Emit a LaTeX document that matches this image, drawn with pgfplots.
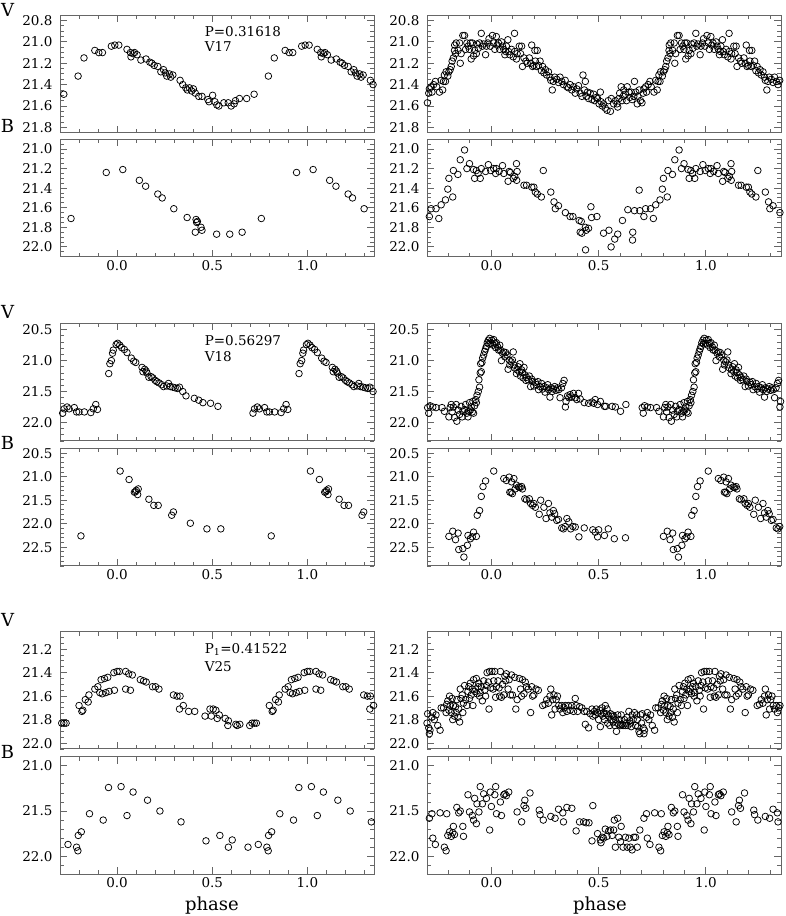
\documentclass[border=0pt]{standalone}
\usepackage{fontspec}
\setmainfont{DejaVu Serif}
\usepackage{pgfplots}
\pgfplotsset{compat=1.18}
\usepackage{pgfplotstable}

% ---------------- V17 ----------------
\pgfplotstableread{
p m
0.009 21.03
0.052 21.07
0.070 21.10
0.073 21.14
0.084 21.11
0.092 21.10
0.105 21.12
0.125 21.17
0.152 21.16
0.172 21.19
0.183 21.20
0.195 21.22
0.214 21.23
0.230 21.28
0.244 21.26
0.253 21.29
0.261 21.32
0.275 21.30
0.282 21.33
0.293 21.31
0.331 21.36
0.345 21.40
0.361 21.43
0.369 21.45
0.380 21.43
0.392 21.46
0.401 21.44
0.411 21.48
0.429 21.51
0.446 21.51
0.477 21.54
0.483 21.56
0.502 21.50
0.514 21.56
0.524 21.59
0.535 21.60
0.561 21.57
0.584 21.57
0.599 21.60
0.615 21.58
0.622 21.55
0.643 21.53
0.681 21.53
0.720 21.49
0.795 21.32
0.826 21.15
0.883 21.08
0.904 21.10
0.923 21.10
0.970 21.04
0.988 21.03
}\vSevL

\pgfplotstableread{
p m
0.030 21.21
0.117 21.32
0.150 21.38
0.214 21.46
0.237 21.50
0.298 21.61
0.368 21.70
0.411 21.85
0.415 21.72
0.418 21.75
0.422 21.74
0.441 21.80
0.446 21.83
0.523 21.87
0.592 21.87
0.657 21.85
0.758 21.71
0.943 21.24
}\bSevL

\pgfplotstableread{
p m
0.005 20.94
0.011 21.01
0.016 21.07
0.023 20.95
0.027 21.03
0.033 21.01
0.039 21.07
0.047 21.00
0.052 21.04
0.058 21.07
0.063 21.12
0.067 21.09
0.070 21.04
0.077 20.98
0.080 21.09
0.086 21.12
0.094 21.07
0.102 21.14
0.108 20.92
0.109 21.09
0.117 21.16
0.120 21.11
0.130 21.04
0.136 21.11
0.141 21.04
0.145 21.23
0.152 21.15
0.161 21.18
0.167 21.20
0.177 21.15
0.183 21.20
0.188 21.03
0.192 21.23
0.198 21.22
0.203 21.08
0.205 21.18
0.211 21.23
0.214 21.08
0.220 21.22
0.227 21.18
0.233 21.27
0.239 21.23
0.245 21.29
0.252 21.26
0.258 21.31
0.266 21.28
0.273 21.33
0.277 21.36
0.284 21.45
0.289 21.37
0.295 21.33
0.305 21.35
0.313 21.38
0.320 21.33
0.328 21.37
0.336 21.40
0.344 21.36
0.352 21.42
0.359 21.43
0.367 21.40
0.375 21.45
0.383 21.42
0.391 21.48
0.398 21.44
0.406 21.41
0.414 21.48
0.422 21.51
0.427 21.31
0.433 21.45
0.438 21.37
0.442 21.51
0.448 21.47
0.453 21.53
0.461 21.48
0.469 21.54
0.477 21.49
0.481 21.55
0.489 21.52
0.495 21.53
0.502 21.58
0.508 21.47
0.511 21.56
0.517 21.60
0.523 21.58
0.531 21.62
0.539 21.64
0.545 21.55
0.555 21.65
0.559 21.53
0.570 21.58
0.578 21.55
0.586 21.58
0.589 21.61
0.595 21.53
0.598 21.48
0.605 21.42
0.609 21.55
0.614 21.51
0.617 21.45
0.625 21.49
0.630 21.55
0.633 21.42
0.641 21.47
0.645 21.52
0.652 21.47
0.656 21.54
0.664 21.51
0.667 21.37
0.673 21.47
0.680 21.58
0.683 21.51
0.689 21.45
0.695 21.55
0.702 21.57
0.708 21.48
0.711 21.44
0.719 21.42
0.723 21.47
0.731 21.40
0.739 21.37
0.745 21.42
0.758 21.47
0.766 21.36
0.773 21.45
0.777 21.37
0.781 21.31
0.786 21.37
0.789 21.28
0.797 21.32
0.802 21.28
0.808 21.26
0.813 21.23
0.817 21.18
0.823 21.15
0.828 21.08
0.833 21.11
0.829 21.03
0.836 21.01
0.845 21.08
0.852 21.01
0.855 21.20
0.859 21.11
0.867 20.94
0.875 20.94
0.880 21.07
0.886 21.01
0.892 21.04
0.898 21.07
0.902 21.01
0.906 21.16
0.911 21.01
0.917 21.13
0.922 21.08
0.930 21.11
0.933 21.02
0.939 21.06
0.945 21.01
0.953 20.92
0.958 21.04
0.964 21.02
0.973 21.12
0.977 21.04
0.984 21.01
0.989 20.97
0.995 21.04
}\vSevR

\pgfplotstableread{
p m
0.011 21.20
0.020 21.25
0.023 21.20
0.036 21.23
0.052 21.17
0.058 21.25
0.078 21.33
0.083 21.23
0.089 21.24
0.102 21.30
0.109 21.28
0.117 21.15
0.120 21.23
0.118 21.32
0.152 21.37
0.164 21.37
0.188 21.39
0.198 21.39
0.205 21.44
0.214 21.46
0.233 21.49
0.242 21.22
0.277 21.44
0.292 21.54
0.298 21.61
0.313 21.58
0.345 21.65
0.367 21.69
0.380 21.69
0.409 21.73
0.414 21.85
0.419 21.74
0.422 21.86
0.438 21.80
0.439 22.03
0.442 21.83
0.453 21.81
0.464 21.59
0.467 21.70
0.492 21.69
0.523 21.86
0.548 21.83
0.558 22.00
0.575 21.92
0.589 21.87
0.611 21.73
0.636 21.62
0.658 21.93
0.659 21.85
0.667 21.63
0.689 21.42
0.692 21.63
0.711 21.69
0.719 21.61
0.742 21.61
0.755 21.71
0.766 21.57
0.786 21.52
0.797 21.41
0.802 21.30
0.820 21.49
0.823 21.22
0.844 21.26
0.855 21.11
0.875 21.01
0.886 21.20
0.898 21.15
0.917 21.21
0.922 21.30
0.930 21.22
0.938 21.25
0.948 21.30
0.953 21.20
0.973 21.23
0.986 21.16
0.997 21.22
}\bSevR

% ---------------- V18 ----------------
\pgfplotstableread{
p m
0.003 20.72
0.014 20.75
0.024 20.79
0.038 20.82
0.052 20.87
0.075 20.96
0.087 21.01
0.098 21.03
0.131 21.11
0.136 21.18
0.145 21.14
0.153 21.17
0.157 21.20
0.167 21.27
0.179 21.26
0.188 21.28
0.200 21.32
0.209 21.34
0.220 21.36
0.235 21.39
0.244 21.42
0.261 21.41
0.270 21.37
0.279 21.42
0.293 21.43
0.305 21.44
0.317 21.45
0.328 21.43
0.345 21.50
0.362 21.57
0.406 21.61
0.429 21.64
0.451 21.68
0.491 21.69
0.530 21.74
0.714 21.85
0.722 21.78
0.737 21.75
0.748 21.78
0.775 21.76
0.787 21.83
0.800 21.83
0.828 21.83
0.862 21.84
0.875 21.78
0.888 21.71
0.897 21.79
0.956 21.21
0.962 21.05
0.970 21.00
0.976 20.88
0.980 20.83
0.995 20.74
}\vEigL

\pgfplotstableread{
p m
0.016 20.88
0.063 21.06
0.091 21.33
0.097 21.32
0.101 21.29
0.108 21.38
0.111 21.26
0.167 21.48
0.193 21.61
0.216 21.61
0.287 21.82
0.296 21.75
0.385 21.99
0.472 22.11
0.545 22.11
0.810 22.26
}\bEigL

\pgfplotstableread{
p m
0.002 20.67
0.008 20.75
0.011 20.66
0.016 20.72
0.020 20.79
0.023 20.71
0.030 20.78
0.034 20.83
0.039 20.75
0.042 20.83
0.047 21.00
0.052 20.88
0.058 20.86
0.063 20.94
0.067 20.87
0.073 20.91
0.078 21.14
0.083 20.99
0.086 21.07
0.092 21.02
0.098 20.99
0.102 20.86
0.105 21.07
0.109 21.12
0.117 21.21
0.120 21.15
0.125 21.10
0.130 21.18
0.133 21.05
0.136 21.25
0.141 21.15
0.145 21.19
0.148 21.28
0.152 21.11
0.156 21.23
0.161 21.32
0.164 21.27
0.172 21.31
0.177 21.25
0.183 21.42
0.188 21.30
0.192 21.34
0.198 21.41
0.205 21.35
0.211 21.39
0.217 21.34
0.220 21.47
0.227 21.42
0.234 21.37
0.239 21.46
0.245 21.42
0.250 21.51
0.258 21.44
0.263 21.39
0.267 21.47
0.273 21.59
0.277 21.44
0.283 21.50
0.289 21.46
0.295 21.42
0.302 21.48
0.308 21.44
0.314 21.47
0.320 21.60
0.327 21.44
0.333 21.37
0.339 21.32
0.345 21.75
0.348 21.66
0.355 21.57
0.361 21.60
0.367 21.55
0.375 21.59
0.383 21.53
0.391 21.60
0.398 21.63
0.406 21.53
0.414 21.62
0.433 21.68
0.453 21.69
0.469 21.67
0.477 21.69
0.484 21.63
0.495 21.71
0.508 21.66
0.527 21.74
0.533 21.74
0.563 21.74
0.578 21.75
0.602 21.82
0.627 21.71
0.703 21.76
0.708 21.85
0.714 21.73
0.727 21.75
0.742 21.76
0.770 21.76
0.781 21.82
0.802 21.91
0.808 21.76
0.813 21.71
0.817 21.83
0.823 21.75
0.828 21.92
0.836 21.71
0.839 21.98
0.845 21.80
0.852 21.87
0.859 21.74
0.864 21.91
0.867 21.82
0.875 21.79
0.880 21.71
0.886 21.85
0.891 21.91
0.895 21.82
0.898 21.68
0.902 21.80
0.906 21.75
0.911 21.83
0.914 21.66
0.917 21.85
0.922 21.73
0.927 21.63
0.930 21.68
0.933 21.56
0.939 21.50
0.945 21.43
0.942 21.31
0.948 21.20
0.953 21.18
0.950 21.05
0.956 21.03
0.959 20.96
0.964 20.91
0.969 20.85
0.973 20.81
0.977 20.77
0.981 20.71
0.986 20.67
0.989 20.73
0.992 20.64
0.997 20.72
}\vEigR

\pgfplotstableread{
p m
0.011 20.88
0.058 21.04
0.070 21.08
0.083 21.01
0.086 21.33
0.094 21.11
0.092 21.33
0.098 21.36
0.105 21.04
0.111 21.26
0.117 21.18
0.127 21.22
0.133 21.23
0.141 21.21
0.145 21.26
0.156 21.47
0.164 21.49
0.177 21.47
0.183 21.57
0.192 21.61
0.198 21.57
0.205 21.65
0.223 21.80
0.230 21.50
0.245 21.65
0.255 21.89
0.266 21.57
0.273 21.77
0.281 21.86
0.289 21.72
0.295 21.79
0.305 21.93
0.313 21.91
0.328 22.09
0.336 22.11
0.344 22.06
0.352 21.89
0.361 21.96
0.370 22.11
0.380 22.06
0.391 22.07
0.408 22.28
0.433 22.09
0.473 22.13
0.484 22.18
0.495 22.28
0.500 22.13
0.527 22.25
0.545 22.11
0.573 22.32
0.625 22.30
0.802 22.27
0.820 22.16
0.833 22.34
0.845 22.20
0.848 22.55
0.867 22.53
0.872 22.71
0.888 22.46
0.891 22.25
0.902 22.32
0.911 22.28
0.917 22.18
0.930 22.27
0.934 21.82
0.945 21.72
0.953 21.42
0.961 21.21
0.973 21.09
}\bEigR

% ---------------- V25 ----------------
\pgfplotstableread{
p m
0.000 21.39
0.012 21.39
0.045 21.39
0.045 21.54
0.061 21.41
0.070 21.55
0.080 21.42
0.122 21.46
0.139 21.47
0.153 21.48
0.186 21.52
0.202 21.52
0.220 21.54
0.296 21.59
0.315 21.60
0.331 21.60
0.328 21.71
0.348 21.68
0.376 21.73
0.408 21.73
0.462 21.77
0.488 21.71
0.495 21.77
0.505 21.71
0.519 21.72
0.526 21.79
0.537 21.76
0.568 21.79
0.582 21.85
0.585 21.81
0.624 21.84
0.631 21.85
0.645 21.84
0.697 21.85
0.709 21.83
0.721 21.83
0.732 21.83
0.800 21.68
0.815 21.73
0.820 21.72
0.833 21.63
0.848 21.65
0.852 21.59
0.883 21.54
0.899 21.52
0.909 21.57
0.916 21.46
0.922 21.58
0.934 21.45
0.941 21.57
0.951 21.44
0.958 21.56
0.983 21.40
0.986 21.55
}\vTwfL

\pgfplotstableread{
p m
0.021 21.23
0.052 21.55
0.084 21.29
0.160 21.38
0.225 21.50
0.336 21.62
0.467 21.83
0.540 21.77
0.585 21.90
0.605 21.82
0.688 21.90
0.742 21.87
0.787 21.90
0.794 21.94
0.796 21.77
0.812 21.73
0.855 21.53
0.927 21.60
0.955 21.24
}\bTwfL

\pgfplotstableread{
p m
0.003 21.39
0.008 21.54
0.011 21.47
0.016 21.39
0.020 21.61
0.023 21.52
0.031 21.47
0.036 21.53
0.039 21.60
0.042 21.39
0.047 21.61
0.052 21.50
0.058 21.59
0.063 21.43
0.067 21.47
0.070 21.41
0.078 21.54
0.083 21.46
0.089 21.59
0.094 21.42
0.098 21.59
0.109 21.44
0.114 21.71
0.120 21.63
0.130 21.45
0.136 21.54
0.141 21.60
0.145 21.46
0.152 21.58
0.158 21.48
0.164 21.52
0.172 21.54
0.183 21.74
0.188 21.52
0.192 21.60
0.198 21.59
0.208 21.54
0.219 21.55
0.239 21.68
0.250 21.67
0.258 21.63
0.266 21.66
0.273 21.60
0.277 21.54
0.281 21.76
0.286 21.63
0.292 21.59
0.297 21.71
0.302 21.63
0.308 21.60
0.314 21.68
0.320 21.71
0.328 21.68
0.333 21.74
0.339 21.70
0.345 21.68
0.352 21.73
0.359 21.68
0.367 21.72
0.375 21.68
0.383 21.73
0.391 21.62
0.395 21.68
0.402 21.73
0.411 21.69
0.422 21.70
0.433 21.73
0.438 21.84
0.445 21.73
0.453 21.87
0.461 21.75
0.469 21.71
0.473 21.77
0.480 21.73
0.484 21.76
0.489 21.71
0.495 21.74
0.500 21.80
0.505 21.72
0.508 21.86
0.511 21.75
0.516 21.70
0.520 21.77
0.523 21.74
0.527 21.80
0.531 21.68
0.536 21.75
0.539 21.71
0.542 21.83
0.547 21.77
0.552 21.85
0.555 21.75
0.558 21.80
0.563 21.76
0.567 21.82
0.570 21.77
0.575 21.85
0.578 21.80
0.583 21.90
0.586 21.83
0.589 21.76
0.594 21.84
0.598 21.80
0.602 21.85
0.605 21.76
0.609 21.84
0.614 21.85
0.620 21.80
0.625 21.85
0.630 21.83
0.633 21.78
0.636 21.85
0.641 21.73
0.645 21.81
0.648 21.83
0.652 21.86
0.656 21.76
0.661 21.80
0.667 21.74
0.672 21.85
0.677 21.76
0.680 21.80
0.683 21.86
0.688 21.90
0.692 21.92
0.695 21.76
0.700 21.83
0.703 21.75
0.708 21.87
0.711 21.92
0.714 21.89
0.723 21.78
0.727 21.74
0.734 21.80
0.742 21.76
0.750 21.85
0.761 21.89
0.766 21.70
0.777 21.70
0.789 21.74
0.792 21.67
0.797 21.64
0.802 21.72
0.805 21.60
0.808 21.68
0.813 21.74
0.817 21.62
0.820 21.80
0.823 21.68
0.828 21.77
0.833 21.69
0.836 21.74
0.839 21.63
0.844 21.78
0.848 21.71
0.852 21.82
0.855 21.54
0.858 21.62
0.864 21.59
0.867 21.74
0.870 21.66
0.875 21.51
0.880 21.63
0.886 21.68
0.891 21.56
0.895 21.52
0.898 21.62
0.902 21.49
0.906 21.59
0.911 21.54
0.914 21.68
0.917 21.46
0.922 21.56
0.927 21.54
0.930 21.45
0.933 21.58
0.938 21.52
0.942 21.49
0.945 21.60
0.948 21.57
0.953 21.52
0.958 21.64
0.964 21.47
0.969 21.55
0.973 21.60
0.977 21.51
0.980 21.40
0.986 21.48
0.989 21.71
0.992 21.39
0.997 21.53
}\vTwfR

\pgfplotstableread{
p m
0.000 21.45
0.016 21.32
0.020 21.23
0.024 21.53
0.042 21.40
0.047 21.55
0.058 21.32
0.063 21.31
0.070 21.33
0.081 21.29
0.120 21.51
0.141 21.62
0.152 21.44
0.156 21.38
0.161 21.47
0.180 21.30
0.223 21.49
0.227 21.54
0.242 21.60
0.277 21.56
0.297 21.58
0.313 21.48
0.333 21.52
0.336 21.62
0.352 21.46
0.375 21.47
0.395 21.72
0.411 21.62
0.430 21.62
0.442 21.63
0.455 21.63
0.469 21.83
0.473 21.44
0.495 21.75
0.508 21.82
0.511 21.85
0.516 21.79
0.523 21.80
0.531 21.70
0.539 21.78
0.547 21.72
0.555 21.71
0.563 21.77
0.570 21.71
0.573 21.60
0.578 21.90
0.589 21.58
0.594 21.79
0.602 21.84
0.605 21.67
0.614 21.90
0.625 21.79
0.633 21.90
0.641 21.80
0.648 21.90
0.656 21.93
0.664 21.79
0.672 21.79
0.680 21.90
0.692 21.71
0.711 21.58
0.723 21.53
0.727 21.80
0.739 21.87
0.761 21.52
0.781 21.90
0.789 21.94
0.792 21.53
0.797 21.77
0.805 21.73
0.813 21.78
0.820 21.74
0.823 21.67
0.828 21.76
0.839 21.46
0.848 21.52
0.855 21.50
0.867 21.67
0.870 21.78
0.891 21.32
0.898 21.51
0.911 21.55
0.917 21.60
0.922 21.36
0.930 21.64
0.933 21.42
0.942 21.51
0.948 21.23
0.958 21.42
0.964 21.31
0.977 21.36
0.992 21.71
0.995 21.29
}\bTwfR

\newcommand{\tlf}{\fontsize{13.5}{14}\selectfont}
\newcommand{\phplot}[1]{%
  \addplot[pt] table[x expr=\thisrow{p}-1,y=m]{#1};
  \addplot[pt] table[x=p,y=m]{#1};
  \addplot[pt] table[x expr=\thisrow{p}+1,y=m]{#1};}

\pgfplotsset{
  pt/.style={only marks, mark=o, mark size=3.3pt, black, mark options={line width=0.75pt}},
  panel/.style={
    scale only axis, anchor=south west, height=117.5pt,
    y dir=reverse, xmin=-0.3, xmax=1.35,
    xtick={0,0.5,1}, minor xtick={-0.3,-0.2,-0.1,0,0.1,0.2,0.3,0.4,0.5,0.6,0.7,0.8,0.9,1,1.1,1.2,1.3},
    tick align=inside, major tick length=7pt, minor tick length=4pt,
    axis line style={draw=black!60, line width=1pt},
    tick style={draw=black!60, line width=0.9pt},
    ticklabel style={font=\tlf},
    yticklabel style={xshift=-4pt},
    /pgf/number format/.cd, fixed, fixed zerofill, precision=1, assume math mode=true,
  },
  leftc/.style={panel, width=314pt},
  rightc/.style={panel, width=354pt},
  noxl/.style={xticklabels={}},
  rV1/.style={ymin=20.75, ymax=21.85, ytick={20.8,21.0,21.2,21.4,21.6,21.8},
    minor ytick={20.75,20.8,20.85,20.9,20.95,21.0,21.05,21.1,21.15,21.2,21.25,21.3,21.35,21.4,21.45,21.5,21.55,21.6,21.65,21.7,21.75,21.8,21.85}},
  rB1/.style={ymin=20.9, ymax=22.1, ytick={21.0,21.2,21.4,21.6,21.8,22.0},
    minor ytick={20.9,20.95,21.0,21.05,21.1,21.15,21.2,21.25,21.3,21.35,21.4,21.45,21.5,21.55,21.6,21.65,21.7,21.75,21.8,21.85,21.9,21.95,22.0,22.05,22.1}},
  rV2/.style={ymin=20.4, ymax=22.3, ytick={20.5,21.0,21.5,22.0},
    minor ytick={20.4,20.5,20.6,20.7,20.8,20.9,21.0,21.1,21.2,21.3,21.4,21.5,21.6,21.7,21.8,21.9,22.0,22.1,22.2,22.3}},
  rB2/.style={ymin=20.4, ymax=22.9, ytick={20.5,21.0,21.5,22.0,22.5},
    minor ytick={20.4,20.5,20.6,20.7,20.8,20.9,21.0,21.1,21.2,21.3,21.4,21.5,21.6,21.7,21.8,21.9,22.0,22.1,22.2,22.3,22.4,22.5,22.6,22.7,22.8,22.9}},
  rV3/.style={ymin=21.05, ymax=22.05, ytick={21.2,21.4,21.6,21.8,22.0},
    minor ytick={21.05,21.1,21.15,21.2,21.25,21.3,21.35,21.4,21.45,21.5,21.55,21.6,21.65,21.7,21.75,21.8,21.85,21.9,21.95,22.0,22.05}},
  rB3/.style={ymin=20.9, ymax=22.2, ytick={21.0,21.5,22.0},
    minor ytick={20.9,21.0,21.1,21.2,21.3,21.4,21.5,21.6,21.7,21.8,21.9,22.0,22.1,22.2}},
}

\begin{document}
\begin{tikzpicture}
\useasboundingbox (0,0) rectangle (786pt,916pt);

% ===== Row 1: V17 =====
\begin{axis}[leftc, rV1, noxl, at={(60pt,783.3pt)}]
\phplot{\vSevL}
\node[anchor=west, inner sep=0pt, font=\tlf] at (axis cs:0.46,20.905) {P=0.31618};
\node[anchor=west, inner sep=0pt, font=\tlf] at (axis cs:0.46,21.045) {V17};
\end{axis}
\begin{axis}[leftc, rB1, at={(60pt,659.3pt)}]
\phplot{\bSevL}
\end{axis}
\begin{axis}[rightc, rV1, noxl, at={(427pt,783.3pt)}]
\phplot{\vSevR}
\end{axis}
\begin{axis}[rightc, rB1, at={(427pt,659.3pt)}]
\phplot{\bSevR}
\end{axis}

% ===== Row 2: V18 =====
\begin{axis}[leftc, rV2, noxl, at={(60pt,475pt)}]
\phplot{\vEigL}
\node[anchor=west, inner sep=0pt, font=\tlf] at (axis cs:0.46,20.67) {P=0.56297};
\node[anchor=west, inner sep=0pt, font=\tlf] at (axis cs:0.46,20.93) {V18};
\end{axis}
\begin{axis}[leftc, rB2, at={(60pt,350pt)}]
\phplot{\bEigL}
\end{axis}
\begin{axis}[rightc, rV2, noxl, at={(427pt,475pt)}]
\phplot{\vEigR}
\end{axis}
\begin{axis}[rightc, rB2, at={(427pt,350pt)}]
\phplot{\bEigR}
\end{axis}

% ===== Row 3: V25 =====
\begin{axis}[leftc, rV3, noxl, at={(60pt,167pt)}]
\phplot{\vTwfL}
\node[anchor=west, inner sep=0pt, font=\tlf] at (axis cs:0.46,21.2) {P\textsubscript{1}=0.41522};
\node[anchor=west, inner sep=0pt, font=\tlf] at (axis cs:0.46,21.345) {V25};
\end{axis}
\begin{axis}[leftc, rB3, at={(60pt,41.7pt)}]
\phplot{\bTwfL}
\end{axis}
\begin{axis}[rightc, rV3, noxl, at={(427pt,167pt)}]
\phplot{\vTwfR}
\end{axis}
\begin{axis}[rightc, rB3, at={(427pt,41.7pt)}]
\phplot{\bTwfR}
\end{axis}

% ===== band labels =====
\node[font=\fontsize{18}{18}\selectfont] at (7.5pt,906.5pt) {V};
\node[font=\fontsize{18}{18}\selectfont] at (7.5pt,790.5pt) {B};
\node[font=\fontsize{18}{18}\selectfont] at (7.5pt,604.3pt) {V};
\node[font=\fontsize{18}{18}\selectfont] at (7.5pt,472.7pt) {B};
\node[font=\fontsize{18}{18}\selectfont] at (7.5pt,296pt) {V};
\node[font=\fontsize{18}{18}\selectfont] at (7.5pt,164.3pt) {B};
\node[font=\fontsize{18}{18}\selectfont] at (212pt,10pt) {phase};
\node[font=\fontsize{18}{18}\selectfont] at (600pt,10pt) {phase};
\end{tikzpicture}
\end{document}
